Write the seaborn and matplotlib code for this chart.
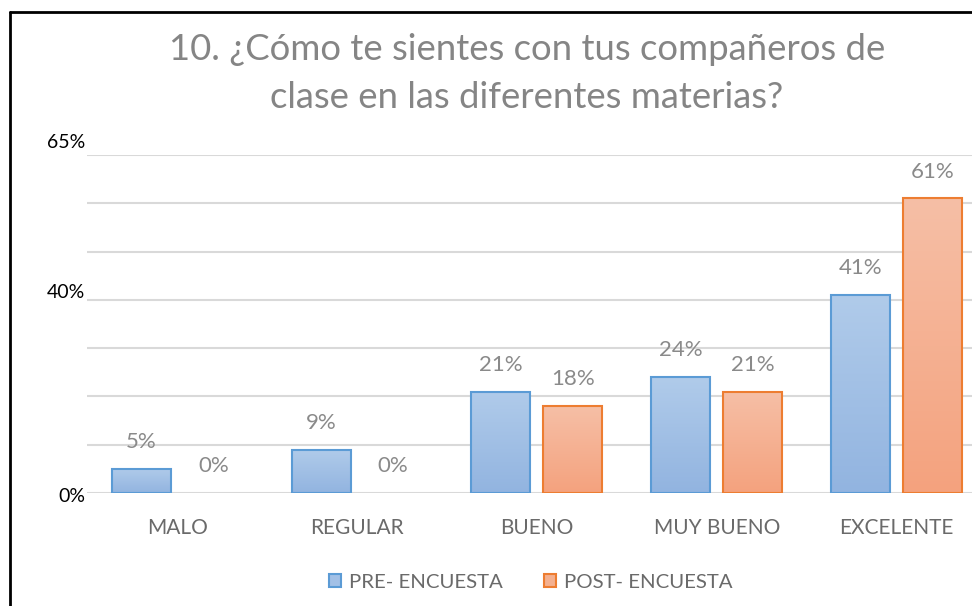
import numpy as np
import pandas as pd
import matplotlib
matplotlib.use("Agg")
import matplotlib.pyplot as plt
from matplotlib.lines import Line2D
from matplotlib.colors import LinearSegmentedColormap
import seaborn as sns

# ---- data ----
categories = ["MALO", "REGULAR", "BUENO", "MUY BUENO", "EXCELENTE"]
series_names = ["PRE- ENCUESTA", "POST- ENCUESTA"]
pre_values = [5, 9, 21, 24, 41]
post_values = [0, 0, 18, 21, 61]
ytick_labels = ["0%", "40%", "65%"]
title_lines = ["10. ¿Cómo te sientes con tus compañeros de",
               "clase en las diferentes materias?"]

df = pd.DataFrame({
    "cat": categories * 2,
    "serie": [series_names[0]] * len(categories) + [series_names[1]] * len(categories),
    "val": pre_values + post_values,
})

sns.set_theme(style="white")
FONT = ["Lato", "DejaVu Sans"]
plt.rcParams["font.family"] = FONT

fig = plt.figure(figsize=(9.72, 6.06), dpi=100)
ax = fig.add_axes([0.0899, 1 - 493 / 606, 0.925, (493 - 155) / 606])

edge_cols = {series_names[0]: "#5b9bd5", series_names[1]: "#ed7d31"}
face_cols = {series_names[0]: "#a2c0e6", series_names[1]: "#f4b08f"}
grad = {series_names[0]: ("#92b4e0", "#b0cbea"), series_names[1]: ("#f4a27e", "#f6bfa6")}

sns.barplot(data=df, x="cat", y="val", hue="serie", order=categories,
            hue_order=series_names, palette=face_cols, width=0.8, gap=0.18,
            ax=ax, legend=False, zorder=3)

ax.set_ylim(0, 70)
ax.set_xlim(-0.5, len(categories) - 0.5)
ax.set_yticks(np.arange(0, 71, 10))
ax.yaxis.grid(True, color="#d9d9d9", linewidth=1.5, zorder=0)
ax.set_yticklabels([])
ax.tick_params(axis="y", length=0)
ax.tick_params(axis="x", length=0, pad=18, labelsize=15, labelcolor="#6a6a6a")
ax.set_xlabel("")
ax.set_ylabel("")
for s in ax.spines.values():
    s.set_visible(False)

# gradient fill + edges + value labels
for container, name in zip(ax.containers, series_names):
    cmap = LinearSegmentedColormap.from_list(name, grad[name])
    for bar in container:
        x0, y0 = bar.get_x(), bar.get_y()
        w, h = bar.get_width(), bar.get_height()
        if h > 0:
            bar.set_edgecolor(edge_cols[name])
            bar.set_linewidth(1.5)
            bar.set_facecolor("none")
            img = ax.imshow(np.linspace(0, 1, 100).reshape(-1, 1), cmap=cmap,
                            origin="lower", extent=[x0, x0 + w, y0, y0 + h],
                            aspect="auto", zorder=2.5)
            img.set_clip_path(bar)
        else:
            bar.set_linewidth(0)
            bar.set_facecolor("none")
        ax.annotate(f"{h:.0f}%", (x0 + w / 2, h), xytext=(0, 12),
                    textcoords="offset points", ha="center", va="bottom",
                    fontsize=16, color="#8a8a8a")
ax.set_xlim(-0.5, len(categories) - 0.5)
ax.set_ylim(0, 70)

# y labels (black, as in reference)
for lab, ypx in zip(ytick_labels, [497, 293, 143]):
    fig.text(85 / 972, 1 - ypx / 606, lab, ha="right", va="center",
             fontsize=14, color="black")

# title
fig.text(527 / 972, 1 - 49 / 606, title_lines[0], ha="center", va="center",
         fontsize=26.3, color="#858585")
fig.text(527 / 972, 1 - 98 / 606, title_lines[1], ha="center", va="center",
         fontsize=26.3, color="#858585")

# legend
handles = [plt.Rectangle((0, 0), 1, 1, facecolor=face_cols[n], edgecolor=edge_cols[n], linewidth=1.5)
           for n in series_names]
fig.legend(handles, series_names, loc="center", bbox_to_anchor=(531 / 972, 1 - 582 / 606),
           ncol=2, frameon=False, fontsize=14.7, labelcolor="#6a6a6a",
           handlelength=0.6, handleheight=0.6, handletextpad=0.4, columnspacing=2.0)

# border lines
fig.add_artist(Line2D([10 / 972, 10 / 972], [0, 1 - 12 / 606], color="black", linewidth=2,
                      transform=fig.transFigure))
fig.add_artist(Line2D([10 / 972, 1], [1 - 12 / 606, 1 - 12 / 606], color="black", linewidth=2,
                      transform=fig.transFigure))

fig.savefig("out.png", dpi=100)
